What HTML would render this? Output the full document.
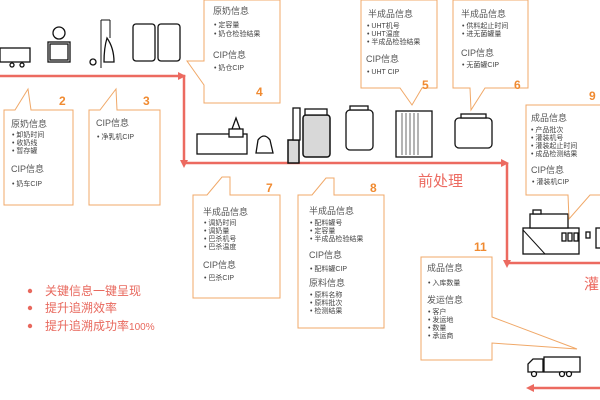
<!DOCTYPE html>
<html><head><meta charset="utf-8"><style>
html,body{margin:0;padding:0;background:#fff;width:600px;height:400px;overflow:hidden}
svg text{font-family:"Liberation Sans","Noto Sans CJK SC",sans-serif}
.t{font-size:9px;fill:#555}
.i{font-size:7px;fill:#444}
.n{font-size:12px;fill:#f08a30;font-weight:bold}
.b{fill:#fff;stroke:#f0a868;stroke-width:1}
.e{fill:#fff;stroke:#111;stroke-width:1.3}
.g{fill:#d8d8d8;stroke:#111;stroke-width:1.5}
.r{font-size:12px;fill:#e8685d}
</style></head><body>
<svg width="600" height="400" viewBox="0 0 600 400" xmlns="http://www.w3.org/2000/svg">
<!-- flow lines -->
<g stroke="#ec6a60" stroke-width="2.5" fill="none">
<polyline points="0,76 184,76 184,163 505,163"/>
<polyline points="507,163 507,263 600,263"/>
<line x1="600" y1="388" x2="530" y2="388"/>
</g>
<g fill="#ec6a60">
<polygon points="186,76 178,72 178,80"/>
<polygon points="184,168 180,160 188,160"/>
<polygon points="509,163 501,159 501,167"/>
<polygon points="507,268 503,260 511,260"/>
<polygon points="526,388 534,384 534,392"/>
</g>
<text x="418" y="186" style="font-size:15px;fill:#ec6a60">前处理</text>
<text x="584" y="289" style="font-size:15px;fill:#ec6a60">灌</text>

<!-- equipment -->
<g>
<rect class="e" x="0" y="48" width="30" height="14"/><circle cx="12" cy="65" r="2" class="e"/><circle cx="22" cy="65" r="2" class="e"/>
<rect class="e" x="48" y="42" width="22" height="20"/><circle cx="59" cy="33" r="6" class="e"/><rect class="e" x="50" y="44" width="18" height="16"/>
<line x1="101" y1="20" x2="101" y2="68" stroke="#111"/><line x1="110" y1="20" x2="110" y2="38" stroke="#111"/><line x1="101" y1="20" x2="110" y2="20" stroke="#111"/>
<path class="e" d="M107,38 Q114,48 114,62 L104,62 Q104,48 107,38Z"/><circle cx="93" cy="62" r="3" class="e"/>
<rect class="e" x="133" y="24" width="22" height="37" rx="3"/><rect class="e" x="158" y="24" width="22" height="37" rx="3"/>
<line x1="0" y1="0" x2="0" y2="0"/>
<!-- pasteurizer -->
<rect class="e" x="197" y="134" width="50" height="20"/><polygon class="e" points="236,118 240,129 232,129"/><rect class="e" x="229" y="129" width="14" height="8"/>
<path class="e" d="M258,140 Q264,132 270,140 L273,153 L256,153Z"/>
<rect class="g" x="288" y="140" width="11" height="23"/><rect class="e" x="293" y="108" width="7" height="32"/>
<rect class="g" x="303" y="115" width="27" height="42" rx="3"/><rect class="e" x="305" y="109" width="22" height="6"/>
<rect class="e" x="346" y="110" width="27" height="40" rx="4"/><rect class="e" x="350" y="106" width="18" height="4"/>
<rect class="e" x="396" y="111" width="36" height="46"/>
<g stroke="#444" stroke-width="0.8"><line x1="402" y1="113" x2="402" y2="155"/><line x1="406" y1="113" x2="406" y2="155"/><line x1="410" y1="113" x2="410" y2="155"/><line x1="414" y1="113" x2="414" y2="155"/><line x1="418" y1="113" x2="418" y2="155"/></g>
<rect class="e" x="455" y="118" width="37" height="30" rx="4"/><rect class="e" x="461" y="114" width="25" height="4"/>
<!-- filler -->
<rect class="e" x="523" y="228" width="56" height="26"/><rect class="e" x="530" y="214" width="38" height="14"/><rect class="e" x="533" y="210" width="8" height="4"/>
<rect class="e" x="562" y="233" width="4" height="8"/><rect class="e" x="568" y="233" width="4" height="8"/><rect class="e" x="574" y="233" width="4" height="8"/>
<rect class="e" x="586" y="232" width="4" height="6"/><rect class="e" x="596" y="228" width="6" height="20"/>
<line x1="523" y1="230" x2="545" y2="254" stroke="#111"/>
<!-- bottom truck -->
<rect class="e" x="544" y="357" width="36" height="15"/><path class="e" d="M528,372 L528,364 L533,359 L543,359 L543,372Z"/>
<circle cx="534" cy="374" r="2.5" class="e"/><circle cx="562" cy="374" r="2.5" class="e"/><circle cx="569" cy="374" r="2.5" class="e"/>
</g>

<!-- callouts -->
<path class="b" d="M4,110 L15,110 L28,89 L31,110 L73,110 L73,205 L4,205Z"/>
<text class="n" x="59" y="105">2</text>
<text class="t" x="11" y="127">原奶信息</text>
<text class="i" x="12" y="137">•  卸奶时间</text><text class="i" x="12" y="145">•  收奶线</text><text class="i" x="12" y="153">•  暂存罐</text>
<text class="t" x="11" y="172">CIP信息</text><text class="i" x="12" y="186">•  奶车CIP</text>

<path class="b" d="M89,110 L100,110 L116,89 L117,110 L160,110 L160,205 L89,205Z"/>
<text class="n" x="143" y="105">3</text>
<text class="t" x="96" y="126">CIP信息</text><text class="i" x="97" y="139">•  净乳机CIP</text>

<path class="b" d="M204,0 L280,0 L280,103 L204,103 L204,85 L187,61 L204,61Z"/>
<text class="n" x="256" y="96">4</text>
<text class="t" x="213" y="14">原奶信息</text>
<text class="i" x="214" y="27">•  定容量</text><text class="i" x="214" y="36">•  奶仓检验结果</text>
<text class="t" x="213" y="58">CIP信息</text><text class="i" x="214" y="70">•  奶仓CIP</text>

<path class="b" d="M361,0 L437,0 L437,88 L422,88 L412,105 L400,88 L361,88Z"/>
<text class="n" x="422" y="89">5</text>
<text class="t" x="368" y="17">半成品信息</text>
<text class="i" x="367" y="28">•  UHT机号</text><text class="i" x="367" y="36">•  UHT温度</text><text class="i" x="367" y="44">•  半成品检验结果</text>
<text class="t" x="366" y="62">CIP信息</text><text class="i" x="367" y="74">•  UHT CIP</text>

<path class="b" d="M453,0 L528,0 L528,88 L485,88 L471,110 L470,88 L453,88Z"/>
<text class="n" x="514" y="89">6</text>
<text class="t" x="461" y="17">半成品信息</text>
<text class="i" x="462" y="28">•  供料起止时间</text><text class="i" x="462" y="36">•  进无菌罐量</text>
<text class="t" x="461" y="56">CIP信息</text><text class="i" x="462" y="67">•  无菌罐CIP</text>

<path class="b" d="M526,105 L601,105 L601,195 L590,195 L569,219 L568,195 L526,195Z"/>
<text class="n" x="589" y="100">9</text>
<text class="t" x="531" y="121">成品信息</text>
<text class="i" x="531" y="132">•  产品批次</text><text class="i" x="531" y="140">•  灌装机号</text><text class="i" x="531" y="148">•  灌装起止时间</text><text class="i" x="531" y="156">•  成品检测结果</text>
<text class="t" x="531" y="173">CIP信息</text><text class="i" x="532" y="184">•   灌装机CIP</text>

<path class="b" d="M193,195 L207,195 L222,177 L230,177 L230,195 L280,195 L280,298 L193,298Z"/>
<text class="n" x="266" y="192">7</text>
<text class="t" x="203" y="215">半成品信息</text>
<text class="i" x="204" y="225">•  调奶时间</text><text class="i" x="204" y="233">•  调奶量</text><text class="i" x="204" y="241">•  巴杀机号</text><text class="i" x="204" y="249">•  巴杀温度</text>
<text class="t" x="203" y="268">CIP信息</text><text class="i" x="204" y="280">•  巴杀CIP</text>

<path class="b" d="M298,195 L312,195 L326,178 L334,178 L334,195 L384,195 L384,328 L298,328Z"/>
<text class="n" x="370" y="192">8</text>
<text class="t" x="309" y="214">半成品信息</text>
<text class="i" x="310" y="225">•  配料罐号</text><text class="i" x="310" y="233">•  定容量</text><text class="i" x="310" y="241">•  半成品检验结果</text>
<text class="t" x="309" y="258">CIP信息</text><text class="i" x="310" y="271">•  配料罐CIP</text>
<text class="t" x="309" y="286">原料信息</text>
<text class="i" x="310" y="297">•  原料名称</text><text class="i" x="310" y="305">•  原料批次</text><text class="i" x="310" y="313">•  检测结果</text>

<path class="b" d="M421,257 L492,257 L492,317 L577,349 L492,343 L492,360 L421,360Z"/>
<text class="n" x="474" y="251">11</text>
<text class="t" x="427" y="271">成品信息</text>
<text class="i" x="428" y="285">•  入库数量</text>
<text class="t" x="427" y="303">发运信息</text>
<text class="i" x="428" y="314">•  客户</text><text class="i" x="428" y="322">•  发运地</text><text class="i" x="428" y="330">•  数量</text><text class="i" x="428" y="338">•  承运商</text>

<!-- bullets -->
<circle cx="30" cy="291" r="2.2" fill="#e8685d"/><text class="r" x="45" y="295">关键信息一键呈现</text>
<circle cx="30" cy="308" r="2.2" fill="#e8685d"/><text class="r" x="45" y="312">提升追溯效率</text>
<circle cx="30" cy="326" r="2.2" fill="#e8685d"/><text class="r" x="45" y="330">提升追溯成功率<tspan style="font-size:10px">100%</tspan></text>
</svg>
</body></html>
